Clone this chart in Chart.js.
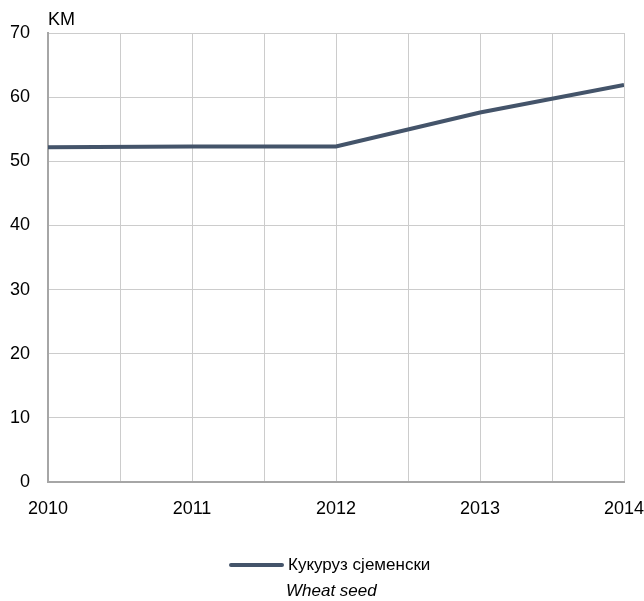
<!DOCTYPE html>
<html>
<head>
<meta charset="utf-8">
<script src="https://cdn.jsdelivr.net/npm/chart.js@4/dist/chart.umd.min.js"></script>
<style>
  html, body { margin: 0; padding: 0; background: #fff; }
  #wrap { width: 644px; height: 601px; }
</style>
</head>
<body>
<div id="wrap"><canvas id="chart"></canvas></div>
<script>
const years = [2010, 2011, 2012, 2013, 2014];
const cornSeed = [52.2, 52.3, 52.3, 57.6, 61.9];
const seriesLabel = 'Кукуруз сјеменски';
const seriesLabelEn = 'Wheat seed';
const unitLabel = 'KM';

const FONT = "'Liberation Sans', Arial, sans-serif";
const lineColor = '#44546a';

// unit label + two-line legend drawn under the chart
const extras = {
  id: 'extras',
  afterDraw(chart) {
    const ctx = chart.ctx;
    ctx.save();
    ctx.fillStyle = '#000';
    ctx.textBaseline = 'middle';
    ctx.textAlign = 'left';
    ctx.font = '18px ' + FONT;
    ctx.fillText(unitLabel, 48, 20);

    ctx.strokeStyle = lineColor;
    ctx.lineWidth = 4;
    ctx.lineCap = 'round';
    ctx.beginPath();
    ctx.moveTo(231, 565);
    ctx.lineTo(282, 565);
    ctx.stroke();

    ctx.font = '17px ' + FONT;
    ctx.fillText(seriesLabel, 288, 565);
    ctx.font = 'italic 17px ' + FONT;
    ctx.fillText(seriesLabelEn, 286, 591);
    ctx.restore();
  }
};

new Chart(document.getElementById('chart'), {
  type: 'line',
  data: {
    datasets: [{
      label: seriesLabel,
      data: years.map((y, i) => ({ x: y, y: cornSeed[i] })),
      borderColor: lineColor,
      borderWidth: 4,
      pointRadius: 0,
      tension: 0,
      fill: false
    }]
  },
  options: {
    responsive: true,
    maintainAspectRatio: false,
    animation: false,
    layout: { padding: { top: 33, right: 20, left: 0, bottom: 0 } },
    plugins: {
      legend: { display: false },
      tooltip: { enabled: false }
    },
    scales: {
      x: {
        type: 'linear',
        min: 2010,
        max: 2014,
        afterFit: s => { s.height = 119; s.paddingRight = 0; s.paddingLeft = 0; },
        grid: { color: '#cccccc', lineWidth: 1, drawTicks: false },
        border: { color: '#a6a6a6', width: 2 },
        ticks: {
          stepSize: 0.5,
          padding: 16,
          color: '#000',
          font: { family: FONT, size: 18 },
          maxRotation: 0,
          autoSkip: false,
          callback: v => Number.isInteger(v) ? String(v) : ''
        }
      },
      y: {
        min: 0,
        max: 70,
        afterFit: s => { s.width = 48; s.paddingTop = 0; s.paddingBottom = 0; },
        grid: { color: '#cccccc', lineWidth: 1, drawTicks: false },
        border: { color: '#a6a6a6', width: 2 },
        ticks: {
          stepSize: 10,
          padding: 18,
          color: '#000',
          font: { family: FONT, size: 18 }
        }
      }
    }
  },
  plugins: [extras]
});
</script>
</body>
</html>
